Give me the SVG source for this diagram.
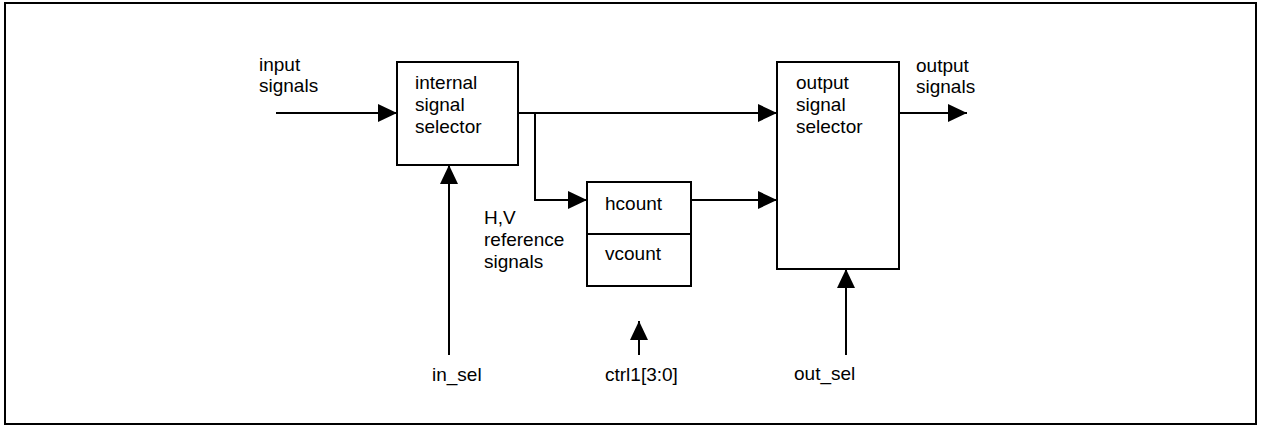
<svg xmlns="http://www.w3.org/2000/svg" width="1261" height="426" viewBox="0 0 1261 426">
<style>
text{font-family:"Liberation Sans",Arial,sans-serif;font-size:19px;fill:#000}
.box{fill:#fff;stroke:#000;stroke-width:2}
.ln{fill:none;stroke:#000;stroke-width:2}
</style>
<defs>
<marker id="ah" markerUnits="userSpaceOnUse" markerWidth="19" markerHeight="18" refX="19" refY="9" orient="auto">
<path d="M0,0 L19,9 L0,18 Z" fill="#000"/>
</marker>
</defs>
<rect x="5" y="3" width="1251" height="421" fill="#fff" stroke="#000" stroke-width="2"/>
<g id="connectors">
<line class="ln" x1="276" y1="113" x2="397" y2="113" marker-end="url(#ah)"/>
<line class="ln" x1="518" y1="113" x2="777" y2="113" marker-end="url(#ah)"/>
<polyline class="ln" points="535,113 535,200 587,200" marker-end="url(#ah)"/>
<line class="ln" x1="691" y1="200" x2="777" y2="200" marker-end="url(#ah)"/>
<line class="ln" x1="899" y1="113" x2="967" y2="113" marker-end="url(#ah)"/>
<line class="ln" x1="449" y1="355" x2="449" y2="165" marker-end="url(#ah)"/>
<line class="ln" x1="639" y1="355" x2="639" y2="321" marker-end="url(#ah)"/>
<line class="ln" x1="846" y1="355" x2="846" y2="269" marker-end="url(#ah)"/>
</g>
<g id="internal-selector">
<rect class="box" x="397" y="62" width="121" height="103"/>
<text x="415" y="89">internal</text>
<text x="415" y="111">signal</text>
<text x="415" y="133">selector</text>
</g>
<g id="counter">
<rect class="box" x="587" y="182" width="104" height="104"/>
<line class="ln" x1="587" y1="234" x2="691" y2="234"/>
<text x="605" y="210">hcount</text>
<text x="605" y="260">vcount</text>
</g>
<g id="output-selector">
<rect class="box" x="777" y="62" width="122" height="207"/>
<text x="796" y="89">output</text>
<text x="796" y="111">signal</text>
<text x="796" y="133">selector</text>
</g>
<g id="labels">
<text x="259" y="71">input</text>
<text x="259" y="92">signals</text>
<text x="916" y="72">output</text>
<text x="916" y="93">signals</text>
<text x="484" y="224">H,V</text>
<text x="484" y="246">reference</text>
<text x="484" y="268">signals</text>
<text x="432" y="381">in_sel</text>
<text x="605" y="381">ctrl1[3:0]</text>
<text x="794" y="380">out_sel</text>
</g>
</svg>
